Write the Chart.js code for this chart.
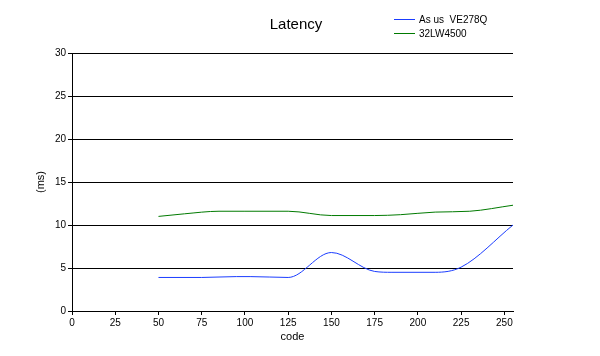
<!DOCTYPE html>
<html><head><meta charset="utf-8">
<script src="https://cdn.jsdelivr.net/npm/chart.js@4/dist/chart.umd.min.js"></script>
<style>html,body{margin:0;padding:0;background:#fff}#wrap{width:600px;height:356px}</style>
</head><body><div id="wrap"><canvas id="c" width="600" height="356"></canvas></div>
<script>
const chartTitle = "Latency";
const xTitle = "code";
const yTitle = "(ms)";
const seriesNames = ["As us  VE278Q", "32LW4500"];
const asusCodes = [50, 75, 95, 103, 125, 150, 175, 185, 210, 225, 255];
const asusValues = [3.9, 3.9, 4.0, 4.0, 3.9, 6.8, 4.6, 4.5, 4.5, 5.1, 10.0];
const lgCodes = [50, 65, 85, 100, 125, 150, 175, 190, 210, 230, 255];
const lgValues = [11.0, 11.3, 11.6, 11.6, 11.6, 11.1, 11.1, 11.2, 11.5, 11.6, 12.3];
const xTicks = [0, 25, 50, 75, 100, 125, 150, 175, 200, 225, 250];
const yTicks = [0, 5, 10, 15, 20, 25, 30];

const zip = (xs, ys) => xs.map((x, i) => ({x, y: ys[i]}));
const FONT = "'Liberation Sans', Arial, sans-serif";

const textPlugin = {
  id: 'customText',
  afterDraw(chart) {
    const ctx = chart.ctx;
    ctx.save();
    ctx.fillStyle = '#000';
    ctx.font = "15px " + FONT;
    ctx.textAlign = 'center';
    ctx.textBaseline = 'middle';
    ctx.fillText(chartTitle, 296, 25);
    ctx.textAlign = 'left';
    ctx.font = "10px " + FONT;
    chart.data.datasets.forEach((ds, i) => {
      const y = 19 + i * 14;
      ctx.strokeStyle = ds.borderColor;
      ctx.lineWidth = 1;
      ctx.beginPath(); ctx.moveTo(394, y + 0.5); ctx.lineTo(415, y + 0.5); ctx.stroke();
      ctx.fillText(ds.label, 419, y + 1);
    });
    ctx.restore();
  }
};

new Chart(document.getElementById('c'), {
  type: 'line',
  data: {
    datasets: [
      {label: seriesNames[0], data: zip(asusCodes, asusValues), borderColor: '#1a3cff', borderWidth: 1, pointRadius: 0, cubicInterpolationMode: 'monotone', fill: false},
      {label: seriesNames[1], data: zip(lgCodes, lgValues), borderColor: '#007a00', borderWidth: 1, pointRadius: 0, cubicInterpolationMode: 'monotone', fill: false}
    ]
  },
  options: {
    responsive: false,
    animation: false,
    layout: {padding: {left: 34, right: 87, top: 53, bottom: 12}},
    plugins: {
      legend: {display: false},
      tooltip: {enabled: false},
      title: {display: false}
    },
    scales: {
      x: {
        type: 'linear', min: 0, max: 255,
        afterBuildTicks: s => { s.ticks = xTicks.map(v => ({value: v})); },
        afterFit: s => { s.height = 33; },
        border: {color: '#000', width: 1},
        grid: {drawOnChartArea: false, drawTicks: true, tickLength: 4, color: '#000'},
        ticks: {color: '#000', font: {family: FONT, size: 10}, padding: 2, maxRotation: 0, autoSkip: false},
        title: {display: true, text: xTitle, color: '#000', font: {family: FONT, size: 11}, padding: {top: 2, bottom: 0}}
      },
      y: {
        min: 0, max: 30,
        afterBuildTicks: s => { s.ticks = yTicks.map(v => ({value: v})); },
        afterFit: s => { s.width = 38; },
        border: {color: '#000', width: 1},
        grid: {color: '#000', lineWidth: 1, tickLength: 4},
        ticks: {color: '#000', font: {family: FONT, size: 10}, padding: 2},
        title: {display: true, text: yTitle, color: '#000', font: {family: FONT, size: 11}, padding: {top: 0, bottom: 0}}
      }
    }
  },
  plugins: [textPlugin]
});
</script></body></html>
